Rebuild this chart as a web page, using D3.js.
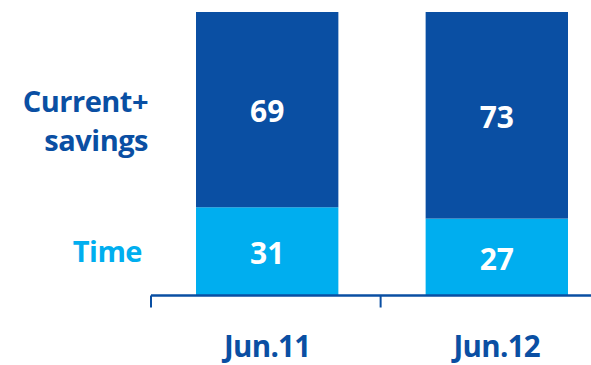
<!DOCTYPE html>
<html>
<head>
<meta charset="utf-8">
<script src="https://cdn.jsdelivr.net/npm/d3@7"></script>
<style>
  html, body { margin: 0; padding: 0; background: #fff; }
  svg text { font-family: "Open Sans", "Noto Sans", sans-serif; font-weight: 700; }
</style>
</head>
<body>
<svg id="chart" width="591" height="365"></svg>
<script>
// Deposit mix by period (% of total)
const periods = ["Jun.11", "Jun.12"];
const timeDeposits = [31, 27];
const currentSavings = [69, 73];
const seriesNames = ["Time", "Current+\nsavings"];
const seriesColors = ["#00AEEF", "#0A4FA3"];

const svg = d3.select("#chart");
const W = 591;
const plot = { left: 151, top: 12, bottom: 295 };

const rows = periods.map((p, i) => ({ period: p, time: timeDeposits[i], current: currentSavings[i] }));
const stack = d3.stack().keys(["time", "current"])(rows);

const x = d3.scaleBand()
  .domain(periods)
  .range([plot.left, 613])
  .paddingInner(0.38)
  .paddingOuter(0.196);

const y = d3.scaleLinear().domain([0, 100]).range([plot.bottom, plot.top]);

// Stacked bars
const layers = svg.selectAll("g.layer")
  .data(stack)
  .join("g")
  .attr("class", "layer")
  .attr("fill", (d, i) => seriesColors[i]);

layers.selectAll("rect")
  .data(d => d)
  .join("rect")
  .attr("x", d => x(d.data.period))
  .attr("width", x.bandwidth())
  .attr("y", d => y(d[1]))
  .attr("height", d => y(d[0]) - y(d[1]));

// Value labels inside segments
layers.selectAll("text")
  .data(d => d)
  .join("text")
  .attr("x", d => x(d.data.period) + x.bandwidth() / 2)
  .attr("y", d => (y(d[0]) + y(d[1])) / 2 + 2)
  .attr("dy", "0.36em")
  .attr("text-anchor", "middle")
  .attr("fill", "#fff")
  .attr("font-size", 30)
  .text(d => d[1] - d[0]);

// Category axis along the bottom
const axisY = plot.bottom + 0.5;
const axisG = svg.append("g").attr("transform", `translate(0,${axisY})`);
axisG.append("line")
  .attr("x1", plot.left).attr("x2", W)
  .attr("stroke", "#0A4FA3").attr("stroke-width", 2.5);
const tickXs = periods.map(p => x(p) - x.step() * x.paddingOuter());
axisG.selectAll("line.tick")
  .data(tickXs)
  .join("line")
  .attr("class", "tick")
  .attr("x1", d => d).attr("x2", d => d)
  .attr("y1", 0).attr("y2", 12)
  .attr("stroke", "#0A4FA3").attr("stroke-width", 2);

svg.selectAll("text.period")
  .data(periods)
  .join("text")
  .attr("class", "period")
  .attr("x", d => x(d) + x.bandwidth() / 2)
  .attr("y", 357)
  .attr("text-anchor", "middle")
  .attr("fill", "#0A4FA3")
  .attr("font-size", 29.5)
  .attr("letter-spacing", -0.7)
  .text(d => d);

// Series labels on the left
const legendX = [142, 148];
const legendBaselines = [[262], [112, 151]];
svg.selectAll("text.series")
  .data(seriesNames)
  .join("text")
  .attr("class", "series")
  .attr("text-anchor", "end")
  .attr("fill", (d, i) => seriesColors[i])
  .attr("font-size", 29)
  .attr("letter-spacing", -0.5)
  .each(function (name, i) {
    const t = d3.select(this);
    name.split("\n").forEach((ln, j) => {
      t.append("tspan")
        .attr("x", legendX[i])
        .attr("y", legendBaselines[i][j])
        .text(ln);
    });
  });
</script>
</body>
</html>
